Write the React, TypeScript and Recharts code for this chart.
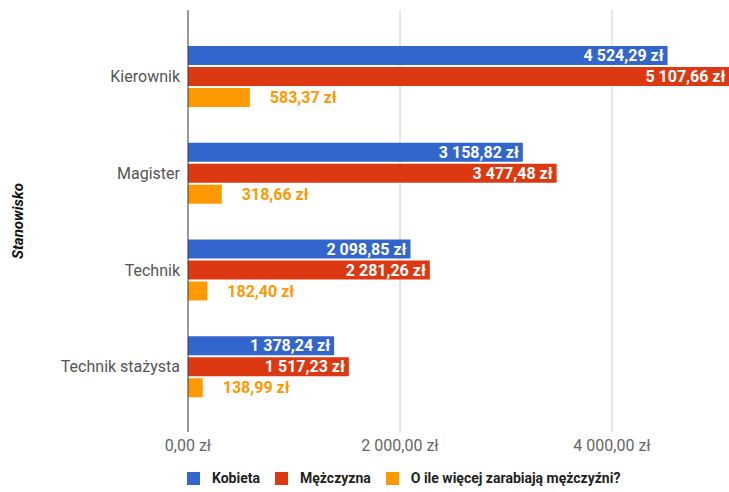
import { BarChart, Bar, XAxis, YAxis, CartesianGrid, Legend, LabelList, Label } from 'recharts'

const stanowiska = ['Kierownik', 'Magister', 'Technik', 'Technik stażysta']
const kobieta = [4524.29, 3158.82, 2098.85, 1378.24]
const mezczyzna = [5107.66, 3477.48, 2281.26, 1517.23]
const roznica = [583.37, 318.66, 182.4, 138.99]
const xTicks = [0, 2000, 4000]
const gridValues = [2000, 4000]
const xMax = 5132

const data = stanowiska.map((s, i) => ({
    stanowisko: s,
    kobieta: kobieta[i],
    mezczyzna: mezczyzna[i],
    roznica: roznica[i],
}))

// 4524.29 -> "4 524,29 zł"
const zl = (v: number) => {
    const [i, d] = v.toFixed(2).split('.')
    return i.replace(/\B(?=(\d{3})+(?!\d))/g, ' ') + ',' + d + ' zł'
}

const renderLegend = (props: any) => (
    <div style={{ display: 'flex', alignItems: 'center', paddingLeft: 187, height: 20 }}>
        {props.payload.map((p: any) => (
            <div key={p.value} style={{ display: 'flex', alignItems: 'center', marginRight: 15 }}>
                <span style={{ width: 13, height: 13, background: p.color, display: 'inline-block', marginRight: 12 }} />
                <span style={{ fontWeight: 'bold', fontSize: 14, color: '#222' }}>{p.value}</span>
            </div>
        ))}
    </div>
)

const AxisTitle = (props: any) => {
    const { x, y, height } = props.viewBox
    const cx = x + 18
    const cy = y + height / 2
    return (
        <text x={cx} y={cy} transform={`rotate(-90 ${cx} ${cy})`} textAnchor="middle" dominantBaseline="central"
            fontSize={15} fontWeight="bold" fontStyle="italic" fill="#111">
            Stanowisko
        </text>
    )
}

const gridX = ({ offset }: any) => gridValues.map((v) => offset.left + (offset.width * v) / xMax)

export default function App() {
    return (
        <div style={{ position: 'absolute', left: 0, top: 0, width: 729, height: 492, background: '#fff', fontFamily: 'Roboto, sans-serif', overflow: 'hidden' }}>
            {/* plot runs a few px past the window so its right edge line is cut off */}
            <BarChart width={732} height={492} data={data} layout="vertical"
                margin={{ top: 10, right: 0, left: 0, bottom: 10 }} barSize={19} barGap={2}>
                <CartesianGrid horizontal={false} stroke="#ccc" verticalCoordinatesGenerator={gridX} />
                <XAxis type="number" domain={[0, xMax]} ticks={xTicks} tickFormatter={zl}
                    axisLine={false} tickLine={false} height={30} tick={{ fill: '#666', fontSize: 16 }} />
                <YAxis type="category" dataKey="stanowisko" width={188} axisLine={{ stroke: '#333' }} tickLine={false}
                    padding={{ top: 18, bottom: 17 }} tick={{ fill: '#555', fontSize: 16 }}>
                    <Label content={AxisTitle} />
                </YAxis>
                <Legend content={renderLegend} wrapperStyle={{ left: 0, bottom: 4, width: 729 }} />
                <Bar dataKey="kobieta" name="Kobieta" fill="#3366CC" isAnimationActive={false}>
                    <LabelList dataKey="kobieta" position="insideRight" offset={4} formatter={zl as any}
                        fill="#fff" fontSize={16} fontWeight="bold" />
                </Bar>
                <Bar dataKey="mezczyzna" name="Mężczyzna" fill="#DC3912" isAnimationActive={false}>
                    <LabelList dataKey="mezczyzna" position="insideRight" offset={4} formatter={zl as any}
                        fill="#fff" fontSize={16} fontWeight="bold" />
                </Bar>
                <Bar dataKey="roznica" name="O ile więcej zarabiają mężczyźni?" fill="#FF9900" isAnimationActive={false}>
                    <LabelList dataKey="roznica" position="right" offset={20} formatter={zl as any}
                        fill="#FF9900" fontSize={16} fontWeight="bold" />
                </Bar>
            </BarChart>
        </div>
    )
}
